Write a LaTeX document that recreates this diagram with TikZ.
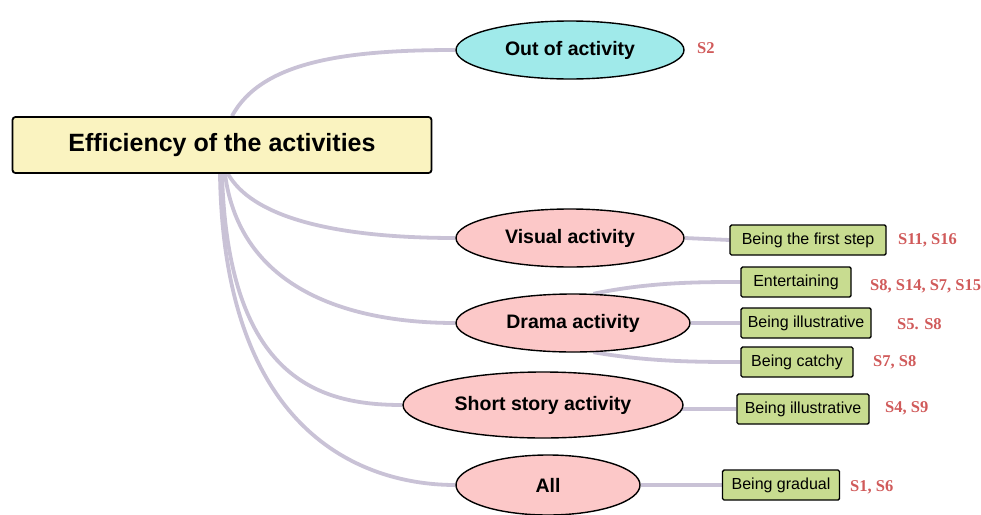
\documentclass[tikz,border=0pt]{standalone}
\usepackage{fontspec}
\setmainfont{Liberation Sans}
\newfontfamily\refserif{Liberation Serif}
\usetikzlibrary{shapes.geometric,backgrounds}
\definecolor{rootfill}{HTML}{FAF3C0}
\definecolor{cyanfill}{HTML}{A0EAEA}
\definecolor{pinkfill}{HTML}{FCC8C8}
\definecolor{greenfill}{HTML}{C8DC90}
\definecolor{linkcol}{HTML}{C9C2D6}
\definecolor{refcol}{HTML}{D05A5A}
\tikzset{
  rootbox/.style={draw=black, line width=1.8pt, fill=rootfill, rounded corners=3pt,
    minimum width=419pt, minimum height=56pt, inner sep=0pt,
    font=\fontsize{25}{27}\selectfont\bfseries},
  topic/.style={ellipse, draw=black, line width=1.4pt, fill=pinkfill, inner sep=0pt,
    minimum height=58pt, font=\fontsize{19.5}{21}\selectfont\bfseries},
  leaf/.style={draw=black, line width=1.4pt, fill=greenfill, rounded corners=1.5pt,
    minimum height=30pt, inner sep=0pt, font=\fontsize{16}{18}\selectfont},
  refs/.style={text=refcol, anchor=west, inner sep=0pt,
    font=\refserif\fontsize{16.5}{18}\selectfont\bfseries},
  link/.style={draw=linkcol, line width=3.8pt},
}
\begin{document}
\begin{tikzpicture}[x=1pt,y=-1pt]
\useasboundingbox (0,0) rectangle (981,514);
\node[rootbox] (root) at (222,145) {Efficiency of the activities};
\node[topic, fill=cyanfill, minimum width=228pt] (out) at (570,50) {Out of activity};
\node[topic, minimum width=228pt] (vis) at (570,238) {Visual activity};
\node[topic, minimum width=234pt] (dra) at (573,323) {Drama activity};
\node[topic, minimum width=280pt, minimum height=66pt] (sho) at (543,405) {Short story activity};
\node[topic, minimum width=184pt, minimum height=60pt] (all) at (548,485) {All};

\node[leaf, minimum width=156pt] (l1) at (808,240) {Being the first step};
\node[leaf, minimum width=110pt] (l2) at (796,282) {Entertaining};
\node[leaf, minimum width=130pt] (l3) at (806,323) {Being illustrative};
\node[leaf, minimum width=112pt] (l4) at (797,362) {Being catchy};
\node[leaf, minimum width=132pt] (l5) at (803,409) {Being illustrative};
\node[leaf, minimum width=117pt] (l6) at (781,485) {Being gradual};

\node[refs] (r0) at (697,48) {S2};
\node[refs] (r1) at (898,240) {S11, S16};
\node[refs] (r2) at (870,286) {S8, S14, S7, S15};
\node[refs] (r3) at (897,324) {S5. S8};
\node[refs] (r4) at (873,362) {S7, S8};
\node[refs] (r5) at (885,408) {S4, S9};
\node[refs] (r6) at (850,487) {S1, S6};

\begin{scope}[on background layer]
\draw[link] ([xshift=10pt]root.north) .. controls (262,60) and (350,50) .. (out.west);
\draw[link] ([xshift=6pt]root.south) .. controls (260,230) and (380,238) .. (vis.west);
\draw[link] ([xshift=3pt]root.south) .. controls (240,290) and (350,323) .. (dra.west);
\draw[link] (root.south) .. controls (228,380) and (320,405) .. (sho.west);
\draw[link] ([xshift=-2pt]root.south) .. controls (224,450) and (380,485) .. (all.west);
\draw[link] (vis.east) -- (l1.west);
\draw[link] (dra.55) .. controls (650,282) and (700,282) .. (l2.west);
\draw[link] (dra.east) -- (l3.west);
\draw[link] (dra.-55) .. controls (650,362) and (700,362) .. (l4.west);
\draw[link] ([xshift=-4pt]sho.east |- l5.west) -- (l5.west);
\draw[link] (all.east) -- (l6.west);
\end{scope}
\end{tikzpicture}
\end{document}
